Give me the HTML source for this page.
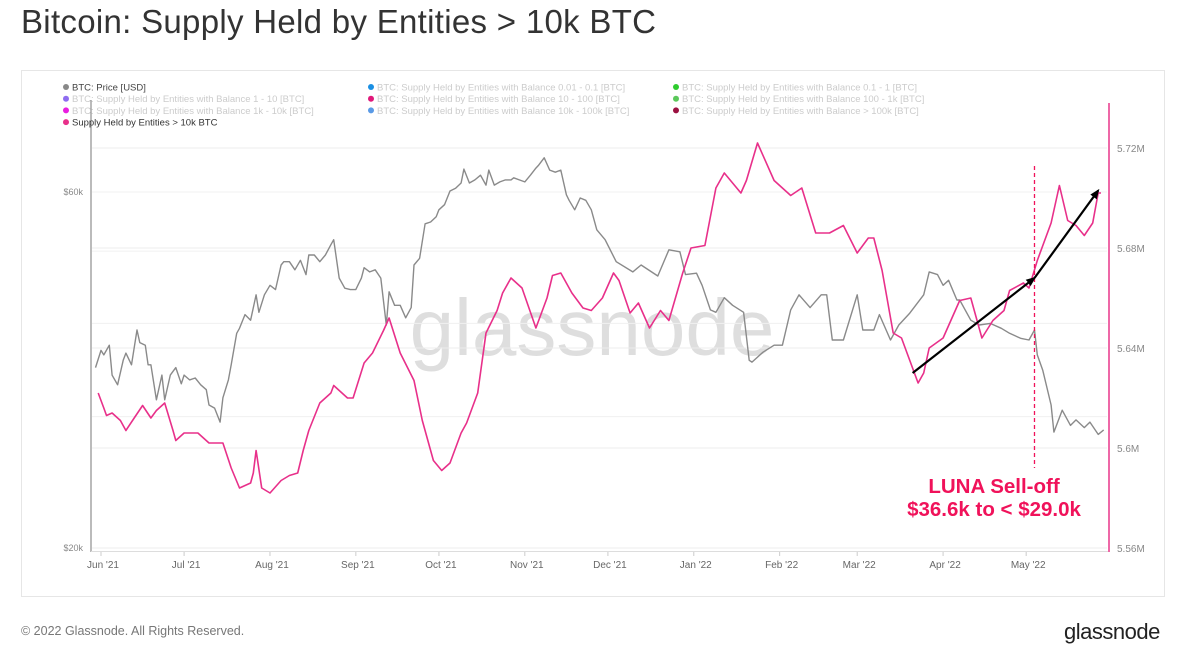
<!DOCTYPE html>
<html><head><meta charset="utf-8"><style>
body{margin:0;width:1179px;height:644px;background:#fff;overflow:hidden;font-family:"Liberation Sans",sans-serif;position:relative}
#title{position:absolute;left:21px;top:3px;font-size:33px;color:#333;letter-spacing:0.3px}
#box{position:absolute;left:21px;top:70px;width:1142px;height:525px;border:1px solid #e6e6e6}
#foot{position:absolute;left:21px;top:624px;font-size:12.5px;color:#777}
#logo{position:absolute;left:1064px;top:619px;font-size:22px;color:#222;letter-spacing:-0.5px}
svg{position:absolute;left:0;top:0}
</style></head><body>
<div id="title">Bitcoin: Supply Held by Entities &gt; 10k BTC</div>
<div id="box"></div>
<div id="foot">© 2022 Glassnode. All Rights Reserved.</div>
<div id="logo">glassnode</div>
<svg id="chart" width="1179" height="644">
<text x="592" y="355" font-size="80" fill="#dedede" text-anchor="middle" font-family="Liberation Sans, sans-serif">glassnode</text>
<g id="grid"></g><g id="axes"></g><g id="series"></g><g id="legend"></g><g id="annot"></g>
</svg>
<script>
// data: days since 2021-06-01
const monthLabels=["Jun '21","Jul '21","Aug '21","Sep '21","Oct '21","Nov '21","Dec '21","Jan '22","Feb '22","Mar '22","Apr '22","May '22"];
const monthDays=[0,30,61,92,122,153,183,214,245,273,304,334];
const rightTicks=[5.56,5.6,5.64,5.68,5.72];
const rightTickLabels=["5.56M","5.6M","5.64M","5.68M","5.72M"];
const leftTicks=[20,60];
const leftTickLabels=["$20k","$60k"];
const priceDays=[-2,0,1,3,4,6,8,9,11,13,14,16,17,18,20,22,23,25,27,29,30,32,34,36,38,39,41,43,44,46,47,49,50,52,54,56,57,59,61,63,65,66,68,70,72,74,75,77,79,81,83,84,86,88,90,92,94,95,97,99,101,103,104,106,108,110,112,113,115,117,119,121,122,124,126,128,130,131,133,135,137,139,140,142,144,146,148,149,151,153,155,157,158,160,162,164,166,168,169,171,173,175,177,179,182,186,192,195,201,205,209,211,215,217,220,222,225,228,232,234,235,239,243,246,249,252,256,260,262,264,268,273,275,279,281,285,288,292,297,299,302,304,306,309,310,314,317,321,325,328,332,335,337,338,340,343,344,347,350,352,355,357,360,362];
const priceK=[34.9,36.8,36.3,37.4,34.1,33.1,35.7,36.5,35.2,39.2,37.7,37.4,35.2,35.2,31.6,34.1,31.6,34.1,34.9,33.2,34.1,33.6,33.8,33.1,32.6,31.1,30.8,29.5,31.8,33.6,35.2,38.8,39.4,41.1,40.4,43.7,41.4,43.7,45.0,44.4,47.9,48.4,48.4,47.2,48.6,46.5,49.4,49.4,48.4,49.4,51.0,51.8,46.0,44.6,44.4,44.4,46.0,47.5,46.9,47.2,46.0,39.8,44.1,42.3,42.3,40.7,42.0,47.9,48.9,54.4,54.7,55.6,56.8,57.7,60.2,60.7,61.7,64.4,61.7,62.3,63.2,61.3,64.2,61.3,61.9,62.3,62.3,62.7,62.3,61.9,63.2,64.6,65.2,66.7,64.2,63.8,64.2,59.5,58.5,56.8,58.9,58.5,56.8,53.4,51.8,48.4,46.9,47.9,46.3,50.2,49.9,46.5,46.7,45.0,41.7,41.4,43.3,42.3,41.4,35.7,35.5,36.6,37.4,37.4,41.7,43.7,42.0,43.7,43.7,38.0,38.0,43.7,39.2,39.2,41.1,38.0,39.8,41.3,43.7,46.9,46.5,45.0,45.7,43.0,43.0,40.4,39.8,40.0,39.4,38.8,38.2,38.0,39.2,36.3,34.6,31.1,28.6,30.6,29.2,29.7,29.0,29.5,28.4,28.8];
const supplyDays=[-1,1,2,4,7,9,12,15,18,20,23,26,27,30,35,39,44,47,50,54,55,56,58,61,65,68,71,73,75,79,83,84,89,91,95,98,102,104,108,113,116,120,123,126,130,132,136,139,143,145,148,152,157,161,163,166,170,174,177,181,185,187,191,194,198,202,205,210,213,218,222,225,231,233,237,243,249,253,258,263,268,273,277,279,282,286,289,295,297,299,304,310,314,318,322,326,328,333,335,338,343,346,349,352,355,358,360,361];
const supplyM=[5.622,5.616,5.613,5.614,5.611,5.607,5.612,5.617,5.612,5.615,5.618,5.607,5.603,5.606,5.606,5.602,5.602,5.592,5.584,5.586,5.590,5.599,5.584,5.582,5.587,5.589,5.590,5.599,5.607,5.618,5.622,5.625,5.620,5.620,5.634,5.638,5.647,5.652,5.638,5.627,5.611,5.595,5.591,5.594,5.606,5.610,5.622,5.646,5.655,5.662,5.668,5.664,5.648,5.660,5.669,5.670,5.662,5.656,5.655,5.660,5.670,5.667,5.654,5.658,5.648,5.655,5.651,5.670,5.680,5.681,5.704,5.710,5.702,5.707,5.722,5.707,5.701,5.704,5.686,5.686,5.689,5.678,5.684,5.684,5.671,5.646,5.644,5.626,5.630,5.640,5.644,5.659,5.660,5.644,5.651,5.655,5.663,5.666,5.664,5.675,5.690,5.705,5.691,5.689,5.685,5.690,5.702,5.702];
const arrowDays=[293,337,360];
const arrowVals=[5.630,5.668,5.703];
const lunaDay=337;

const X=d=>101+d*2.77;
const YR=v=>548-(v-5.56)/0.04*100;
const YL=p=>548-324*Math.log(p/20);
const NS="http://www.w3.org/2000/svg";
function mk(tag,attrs,parent,txt){const e=document.createElementNS(NS,tag);for(const k in attrs)e.setAttribute(k,attrs[k]);if(txt!==undefined)e.textContent=txt;parent.appendChild(e);return e;}
const grid=document.getElementById('grid'),axes=document.getElementById('axes'),series=document.getElementById('series'),legend=document.getElementById('legend'),annot=document.getElementById('annot');

[20,30,40,50,60].forEach(p=>{const l=mk('line',{x1:92,x2:1107,y1:YL(p),y2:YL(p),stroke:'#f0f0f0'},grid);

});
rightTicks.forEach((v,i)=>{const l=mk('line',{x1:92,x2:1107,y1:YR(v),y2:YR(v),stroke:'#ececec'},grid);


const t=mk('text',{x:1117,y:YR(v)+4,'font-size':10,fill:'#888'},axes,rightTickLabels[i]);

});
leftTicks.forEach((p,i)=>{const t=mk('text',{x:83,y:YL(p)+3,'font-size':9,fill:'#888','text-anchor':'end'},axes,leftTickLabels[i]);

});
monthDays.forEach((d,i)=>{mk('line',{x1:X(d),x2:X(d),y1:551,y2:556,stroke:'#ccc'},axes);
const t=mk('text',{x:X(d)+2,y:568,'font-size':10,fill:'#666','text-anchor':'middle'},axes,monthLabels[i]);

});
let a=mk('line',{x1:91,x2:91,y1:100,y2:552,stroke:'#777','stroke-width':1},axes);


a=mk('line',{x1:91,x2:1108,y1:551.5,y2:551.5,stroke:'#ddd'},axes);


a=mk('line',{x1:1109,x2:1109,y1:103,y2:552,stroke:'#e8378a','stroke-width':1.5},axes);



let p=mk('path',{d:priceDays.map((d,i)=>(i?'L':'M')+X(d).toFixed(1)+','+YL(priceK[i]).toFixed(1)).join(''),fill:'none',stroke:'#8a8a8a','stroke-width':1.4,'stroke-linejoin':'round'},series);


p=mk('path',{d:supplyDays.map((d,i)=>(i?'L':'M')+X(d).toFixed(1)+','+YR(supplyM[i]).toFixed(1)).join(''),fill:'none',stroke:'#e8308a','stroke-width':1.6,'stroke-linejoin':'round'},series);



// legend
const leg=[["BTC: Price [USD]","#888","#444"],["BTC: Supply Held by Entities with Balance 0.01 - 0.1 [BTC]","#1a8fe3","#ccc"],["BTC: Supply Held by Entities with Balance 0.1 - 1 [BTC]","#2ecc2e","#ccc"],
["BTC: Supply Held by Entities with Balance 1 - 10 [BTC]","#8e6cf0","#ccc"],["BTC: Supply Held by Entities with Balance 10 - 100 [BTC]","#e0187a","#ccc"],["BTC: Supply Held by Entities with Balance 100 - 1k [BTC]","#5ac85a","#ccc"],
["BTC: Supply Held by Entities with Balance 1k - 10k [BTC]","#e91ee0","#ccc"],["BTC: Supply Held by Entities with Balance 10k - 100k [BTC]","#5a9ae6","#ccc"],["BTC: Supply Held by Entities with Balance > 100k [BTC]","#9b1040","#ccc"],
["Supply Held by Entities > 10k BTC","#e8308a","#333"]];
leg.forEach((e,i)=>{const col=i%3, row=Math.floor(i/3);const lx=[66,371,676][col], ly=87+row*11.7;
const g=mk('g',{},legend);


mk('circle',{cx:lx,cy:ly,r:3,fill:e[1]},g);mk('text',{x:lx+6,y:ly+3.5,'font-size':9.5,fill:e[2]},g,e[0]);});

// annotations
let ln=mk('line',{x1:X(lunaDay),x2:X(lunaDay),y1:166,y2:468,stroke:'#f0125a','stroke-width':1.3,'stroke-dasharray':'4,3'},annot);


mk('defs',{},annot).innerHTML='<marker id="ah" markerWidth="10" markerHeight="8" refX="8" refY="4" orient="auto" markerUnits="userSpaceOnUse"><path d="M0,0L10,4L0,8z" fill="#000"/></marker>';
for(let i=0;i<2;i++){const l=mk('line',{x1:X(arrowDays[i]),y1:YR(arrowVals[i]),x2:X(arrowDays[i+1]),y2:YR(arrowVals[i+1]),stroke:'#000','stroke-width':2.2,'marker-end':'url(#ah)'},annot);

}
let t=mk('text',{x:994,y:493,'font-size':20.5,'font-weight':'bold',fill:'#f0125a','text-anchor':'middle'},annot,'LUNA Sell-off');


t=mk('text',{x:994,y:516,'font-size':20.5,'font-weight':'bold',fill:'#f0125a','text-anchor':'middle'},annot,'$36.6k to < $29.0k');


</script>
</body></html>
